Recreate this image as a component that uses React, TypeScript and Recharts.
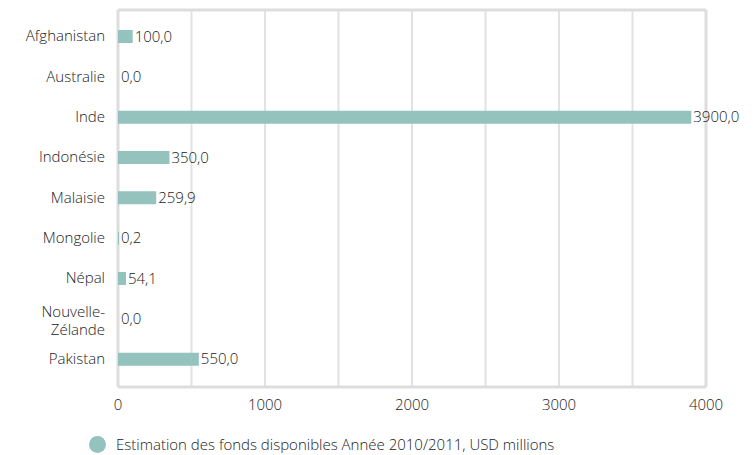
import React from 'react';
import { BarChart, Bar, XAxis, YAxis, CartesianGrid, LabelList, Cell } from 'recharts';

const countries = ['Afghanistan', 'Australie', 'Inde', 'Indonésie', 'Malaisie', 'Mongolie', 'Népal', 'Nouvelle-Zélande', 'Pakistan'];
const funds = [100.0, 0.0, 3900.0, 350.0, 259.9, 0.2, 54.1, 0.0, 550.0];
const xTicks = [0, 500, 1000, 1500, 2000, 2500, 3000, 3500, 4000];
const seriesName = 'Estimation des fonds disponibles Année 2010/2011, USD millions';

const data = countries.map((c, i) => ({ country: c, value: funds[i] }));

const FONT = '"Open Sans", sans-serif';
const TEXT = '#222222';
const BAR = '#94c2bd';
const FS = 15;
const FW = 300;

const fmt = (v: any) => Number(v).toFixed(1).replace('.', ',');

const YTick = (props: any) => {
  const { x, y, payload } = props;
  const label: string = payload.value;
  const idx = label.indexOf('-');
  const lines = idx > 0 ? [label.slice(0, idx + 1), label.slice(idx + 1)] : [label];
  const lh = 18.5;
  const start = y + 2 - ((lines.length - 1) * lh) / 2;
  return (
    <text x={x} textAnchor="end" fill={TEXT} fontSize={FS} fontFamily={FONT} fontWeight={FW}>
      {lines.map((l, i) => (
        <tspan key={i} x={x} y={lines.length > 1 ? start + i * lh : y} dy="0.35em">{l}</tspan>
      ))}
    </text>
  );
};

export default function App() {
  return (
    <div style={{ position: 'absolute', left: 0, top: 0, width: 755, height: 455 }}>
      <BarChart
        width={755}
        height={455}
        data={data}
        layout="vertical"
        margin={{ top: 10, right: 49, bottom: 38, left: 0 }}
      >
        <CartesianGrid horizontal={false} stroke="#e2e2e2" strokeWidth={2} />
        <CartesianGrid
          stroke="#dddddd"
          strokeWidth={3}
          horizontalCoordinatesGenerator={({ offset }: any) => [offset.top, offset.top + offset.height]}
          verticalCoordinatesGenerator={({ offset }: any) => [offset.left, offset.left + offset.width]}
        />
        <XAxis
          type="number"
          domain={[0, 4000]}
          ticks={xTicks}
          interval={0}
          height={30}
          tickFormatter={(v: number) => (v % 1000 === 0 ? String(v) : '')}
          axisLine={false}
          tickLine={false}
          tickMargin={6}
          tick={{ fill: TEXT, fontSize: FS, fontFamily: FONT, fontWeight: FW }}
        />
        <YAxis
          type="category"
          dataKey="country"
          width={118}
          axisLine={false}
          tickLine={false}
          tickMargin={7}
          interval={0}
          padding={{ top: 6, bottom: 8 }}
          tick={<YTick />}
        />
        <Bar
          dataKey="value"
          name={seriesName}
          fill={BAR}
          barSize={13}
          minPointSize={1}
          isAnimationActive={false}
        >
          {data.map((d, i) => (
            <Cell key={i} fill={d.value === 0 ? 'transparent' : BAR} />
          ))}
          <LabelList
            dataKey="value"
            position="right"
            offset={2}
            formatter={fmt}
            fill={TEXT}
            fontSize={FS}
            fontFamily={FONT}
            fontWeight={FW}
          />
        </Bar>
      </BarChart>
      <div
        style={{
          position: 'absolute',
          left: 89,
          top: 434,
          display: 'flex',
          alignItems: 'center',
          fontFamily: FONT,
          fontSize: FS,
          fontWeight: FW,
          color: TEXT,
          whiteSpace: 'nowrap',
        }}
      >
        <span style={{ display: 'inline-block', width: 17, height: 17, borderRadius: '50%', background: BAR, marginRight: 10 }} />
        <span>{seriesName}</span>
      </div>
    </div>
  );
}
